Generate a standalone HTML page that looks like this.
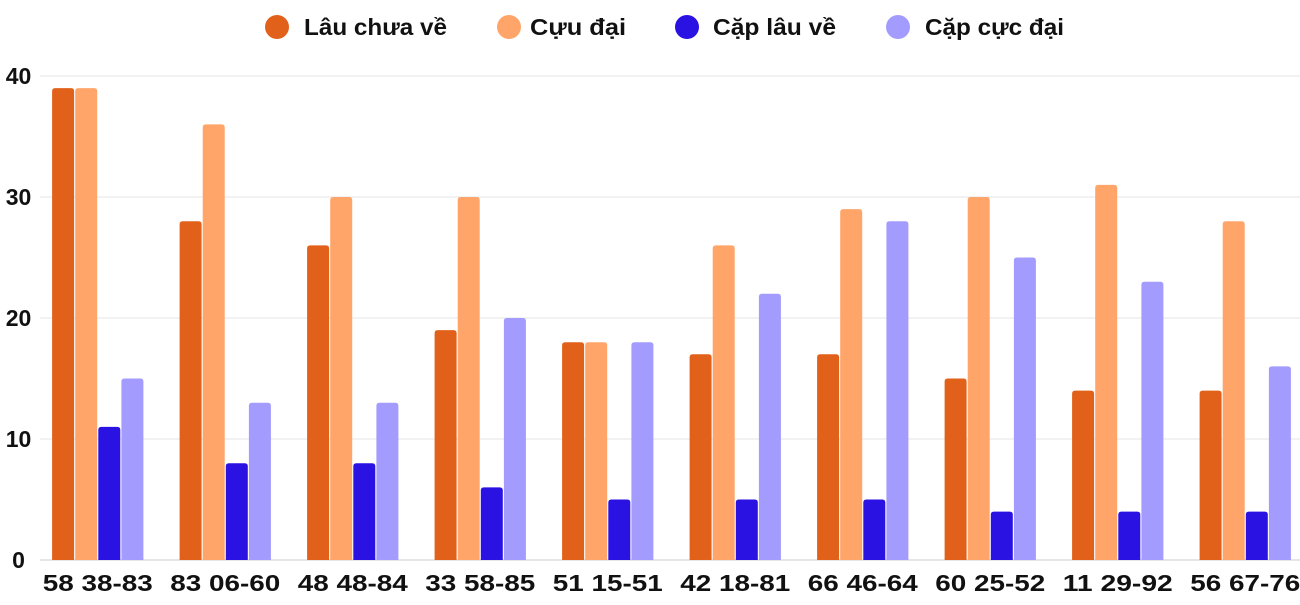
<!DOCTYPE html>
<html><head><meta charset="utf-8">
<style>
html,body{margin:0;padding:0;background:#fff;}
svg text{font-family:"Liberation Sans",Roboto,sans-serif;font-weight:bold;fill:#111;}
</style></head>
<body>
<svg id="chart" width="1300" height="600" xmlns="http://www.w3.org/2000/svg">
<g id="grid"></g>
<g id="bars"></g>
<g id="yticks"></g>
<g id="xticks"></g>
<g id="legend"></g>
</svg>
<script>
const categories=["58 38-83","83 06-60","48 48-84","33 58-85","51 15-51","42 18-81","66 46-64","60 25-52","11 29-92","56 67-76"];
const lauChuaVe=[39,28,26,19,18,17,17,15,14,14];
const cuuDai=[39,36,30,30,18,26,29,30,31,28];
const capLauVe=[11,8,8,6,5,5,5,4,4,4];
const capCucDai=[15,13,13,20,18,22,28,25,23,16];
const seriesNames=["Lâu chưa về","Cựu đại","Cặp lâu về","Cặp cực đại"];
const yTicks=[0,10,20,30,40];

const colors=["#e2611a","#ffa56a","#2a12e2","#a39bfd"];
const series=[lauChuaVe,cuuDai,capLauVe,capCucDai];
const NS="http://www.w3.org/2000/svg";
const y0=560,yTop=76,yMax=40,x0=34,groupW=127.5,barW=22,barGap=1.1;
const yScale=v=>y0-(v/yMax)*(y0-yTop);
const xCenter=i=>x0+groupW*(i+0.5);
function mk(tag,attrs,parent){const e=document.createElementNS(NS,tag);for(const k in attrs)e.setAttribute(k,attrs[k]);parent.appendChild(e);return e;}

const grid=document.getElementById('grid'),yt=document.getElementById('yticks');
yTicks.forEach(t=>{
  const l=mk('line',{x1:40,x2:1300,y1:yScale(t),y2:yScale(t),stroke:t===0?'#ccc':'#e4e4e4','stroke-width':1},grid);
  
  
  const tx=mk('text',{x:18.5,y:yScale(t)+8,'text-anchor':'middle','font-size':23},yt);
  tx.textContent=t;
  
  
});

const bars=document.getElementById('bars'),xt=document.getElementById('xticks');
categories.forEach((c,i)=>{
  const cx=xCenter(i);
  const total=4*barW+3*barGap;
  series.forEach((s,k)=>{
    const x=cx-total/2+k*(barW+barGap);
    const y=yScale(s[i]);
    const r=mk('path',{d:`M${x},${y0}V${y+3}Q${x},${y} ${x+3},${y}H${x+barW-3}Q${x+barW},${y} ${x+barW},${y+3}V${y0}Z`,fill:colors[k]},bars);
    
    
  });
  const tx=mk('text',{x:cx-55,y:591,'font-size':23,textLength:110,lengthAdjust:'spacingAndGlyphs'},xt);
  tx.textContent=c;
  
  
});

const lg=document.getElementById('legend');
const legX=[277,509,687,898];
const legTx=[304,530,713,925];
const legLen=[143,96,123,139];
seriesNames.forEach((n,k)=>{
  const g=mk('g',{},lg);
  
  
  mk('circle',{cx:legX[k],cy:27,r:12,fill:colors[k]},g);
  const t=mk('text',{x:legTx[k],y:35,'font-size':23,textLength:legLen[k],lengthAdjust:'spacingAndGlyphs'},g);
  t.textContent=n;
});
</script>
</body></html>
